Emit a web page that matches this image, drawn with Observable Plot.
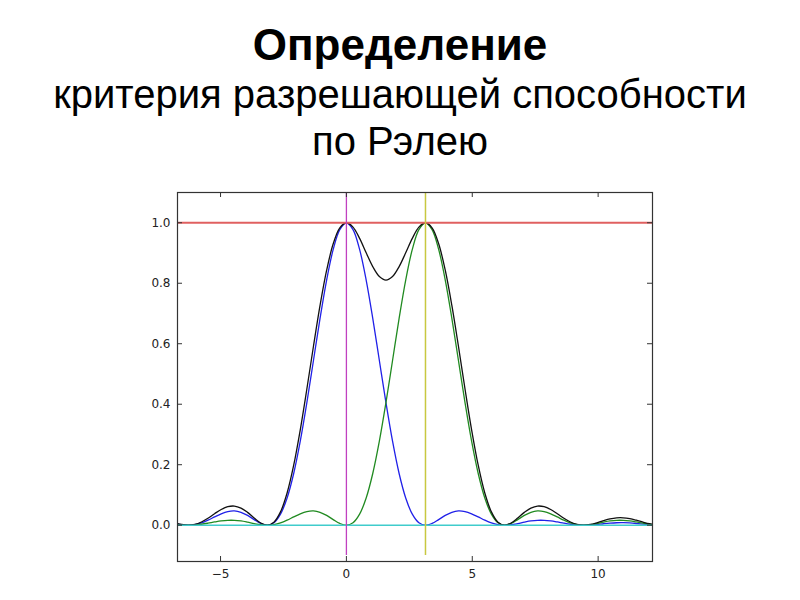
<!DOCTYPE html>
<html>
<head>
<meta charset="utf-8">
<script src="https://cdn.jsdelivr.net/npm/d3@7"></script>
<script src="https://cdn.jsdelivr.net/npm/@observablehq/plot@0.6"></script>
<style>
  body { margin: 0; background: #fff; width: 800px; height: 600px; overflow: hidden; }
  #head { position: relative; width: 800px; height: 175px; font-family: "Liberation Sans", Arial, sans-serif; color: #000; }
  .t { position: absolute; left: 0; width: 800px; text-align: center; line-height: 1; white-space: nowrap; }
  #t1 { top: 23px; font-size: 44px; font-weight: bold; }
  #t2 { top: 74px; font-size: 40px; }
  #t3 { top: 121px; font-size: 40px; }
  #chart svg { display: block; }
</style>
</head>
<body>
<div id="head">
  <div class="t" id="t1">Определение</div>
  <div class="t" id="t2">критерия разрешающей способности</div>
  <div class="t" id="t3">по Рэлею</div>
</div>
<div id="chart"></div>
<script>
// sample positions (x)
const xs = [-6.807,-6.545,-6.283,-6.021,-5.760,-5.498,-5.236,-4.974,-4.712,-4.451,-4.189,-3.927,-3.665,-3.403,-3.142,-2.880,-2.618,-2.356,-2.094,-1.833,-1.571,-1.309,-1.047,-0.785,-0.524,-0.262,0,0.262,0.524,0.785,1.047,1.309,1.571,1.833,2.094,2.356,2.618,2.880,3.142,3.403,3.665,3.927,4.189,4.451,4.712,4.974,5.236,5.498,5.760,6.021,6.283,6.545,6.807,7.069,7.330,7.592,7.854,8.116,8.378,8.639,8.901,9.163,9.425,9.687,9.948,10.210,10.472,10.734,10.996,11.257,11.519,11.781,12.043,12.305];
// blue curve (source centred at 0)
const blue = [0.0054,0.0016,0,0.0019,0.0075,0.0165,0.0274,0.0377,0.0450,0.0471,0.0427,0.0324,0.0186,0.0058,0,0.0081,0.0365,0.0901,0.1710,0.2778,0.4053,0.5445,0.6839,0.8106,0.9119,0.9774,1,0.9774,0.9119,0.8106,0.6839,0.5445,0.4053,0.2778,0.1710,0.0901,0.0365,0.0081,0,0.0058,0.0186,0.0324,0.0427,0.0471,0.0450,0.0377,0.0274,0.0165,0.0075,0.0019,0,0.0016,0.0054,0.0100,0.0140,0.0162,0.0162,0.0142,0.0107,0.0067,0.0032,0.0008,0,0.0007,0.0025,0.0048,0.0068,0.0081,0.0083,0.0074,0.0057,0.0036,0.0017,0.0004];
// green curve (source centred at pi)
const green = [0.0025,0.0007,0,0.0008,0.0032,0.0067,0.0107,0.0142,0.0162,0.0162,0.0140,0.0100,0.0054,0.0016,0,0.0019,0.0075,0.0165,0.0274,0.0377,0.0450,0.0471,0.0427,0.0324,0.0186,0.0058,0,0.0081,0.0365,0.0901,0.1710,0.2778,0.4053,0.5445,0.6839,0.8106,0.9119,0.9774,1,0.9774,0.9119,0.8106,0.6839,0.5445,0.4053,0.2778,0.1710,0.0901,0.0365,0.0081,0,0.0058,0.0186,0.0324,0.0427,0.0471,0.0450,0.0377,0.0274,0.0165,0.0075,0.0019,0,0.0016,0.0054,0.0100,0.0140,0.0162,0.0162,0.0142,0.0107,0.0067,0.0032,0.0008];
// black curve (total intensity)
const black = [0.0079,0.0023,0,0.0027,0.0107,0.0232,0.0381,0.0519,0.0612,0.0633,0.0567,0.0424,0.0240,0.0074,0,0.0100,0.0440,0.1066,0.1984,0.3155,0.4503,0.5916,0.7266,0.8430,0.9305,0.9832,1,0.9855,0.9484,0.9007,0.8549,0.8223,0.8106,0.8223,0.8549,0.9007,0.9484,0.9855,1,0.9832,0.9305,0.8430,0.7266,0.5916,0.4503,0.3155,0.1984,0.1066,0.0440,0.0100,0,0.0074,0.0240,0.0424,0.0567,0.0633,0.0612,0.0519,0.0381,0.0232,0.0107,0.0027,0,0.0023,0.0079,0.0148,0.0208,0.0243,0.0245,0.0216,0.0164,0.0103,0.0049,0.0012];

const peakPositions = [0, 3.1416];   // magenta, yellow verticals
const levelOne = [1];                // red horizontal
const levelZero = [0];               // cyan horizontal
const vLineSpan = [-0.1, 1.1];
const xTicks = [-5, 0, 5, 10];
const yTicks = [0, 0.2, 0.4, 0.6, 0.8, 1.0];
const xDomain = [-6.71, 12.16];
const yDomain = [-0.12, 1.1];

const rows = xs.map((x, i) => ({x, blue: blue[i], green: green[i], black: black[i]}));

const W = 800, H = 425, mt = 17, mb = 39, ml = 177, mr = 148;
const innerH = H - mt - mb, innerW = W - ml - mr;
const tickLen = 5;
const font = "DejaVu Sans, sans-serif";

const chart = Plot.plot({
  width: W, height: H,
  marginTop: mt, marginBottom: mb, marginLeft: ml, marginRight: mr,
  style: {background: "#fff", fontFamily: font},
  x: {domain: xDomain, label: null},
  y: {domain: yDomain, label: null},
  marks: [
    Plot.line(rows, {x: "x", y: "blue", stroke: "#2020e8", strokeWidth: 1.3, curve: "catmull-rom", clip: true}),
    Plot.line(rows, {x: "x", y: "green", stroke: "#208a20", strokeWidth: 1.3, curve: "catmull-rom", clip: true}),
    Plot.line(rows, {x: "x", y: "black", stroke: "#111", strokeWidth: 1.3, curve: "catmull-rom", clip: true}),
    Plot.ruleY(levelOne, {stroke: "#e06060", strokeWidth: 2}),
    Plot.ruleY(levelZero, {stroke: "#40cccc", strokeWidth: 1.6}),
    Plot.ruleX(peakPositions.slice(0,1), {y1: vLineSpan[0], y2: vLineSpan[1], stroke: "#c040c0", strokeWidth: 1.3}),
    Plot.ruleX(peakPositions.slice(1,2), {y1: vLineSpan[0], y2: vLineSpan[1], stroke: "#c8c840", strokeWidth: 1.5}),
    // inward ticks
    Plot.tickX(xTicks, {x: d => d, insetTop: innerH - tickLen, stroke: "#333"}),
    Plot.tickX(xTicks, {x: d => d, insetBottom: innerH - tickLen, stroke: "#333"}),
    Plot.tickY(yTicks, {y: d => d, insetRight: innerW - tickLen, stroke: "#333"}),
    Plot.tickY(yTicks, {y: d => d, insetLeft: innerW - tickLen, stroke: "#333"}),
    Plot.axisX(xTicks, {anchor: "bottom", tickSize: 0, tickPadding: 8, fontSize: 12, fill: "#222", label: null}),
    Plot.axisY(yTicks, {anchor: "left", tickSize: 0, tickPadding: 7, fontSize: 12, fill: "#222", label: null, tickFormat: d3.format(".1f")}),
    Plot.frame({stroke: "#333", strokeWidth: 1.2})
  ]
});
document.getElementById("chart").appendChild(chart);
</script>
</body>
</html>
